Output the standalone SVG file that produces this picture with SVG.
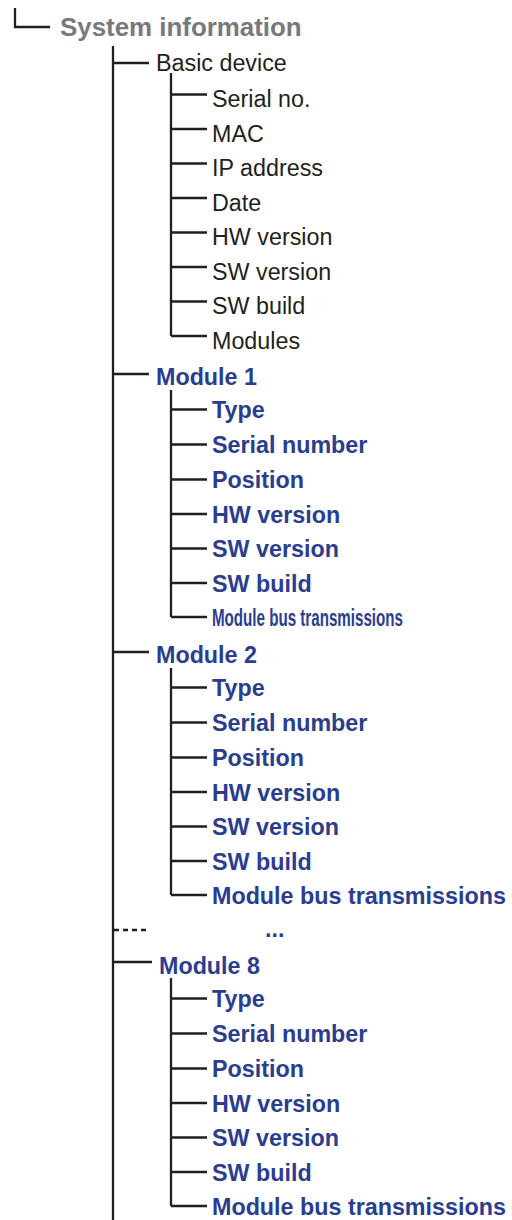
<svg xmlns="http://www.w3.org/2000/svg" width="512" height="1220" viewBox="0 0 512 1220">
  <style>
    .ln { stroke: #231f20; stroke-width: 2.3; fill: none; }
    .dash { stroke-dasharray: 5 4; }
    text { font-family: "Liberation Sans", Arial, Helvetica, sans-serif; font-size: 23.3px; }
    .root { font-size: 25.9px; font-weight: bold; fill: #78797c; }
    .plain { fill: #231f20; }
    .mod { font-weight: bold; fill: #2a3d8f; }
  </style>
  <rect width="512" height="1220" fill="#ffffff"/>

  <!-- connectors -->
  <g id="connectors" class="ln">
    <path d="M15 8 V27 H50"/>
    <path d="M113 46 V1220"/>
    <!-- basic device -->
    <path d="M113 63 H149"/>
    <path d="M171 73 V336"/>
    <path d="M171 94.5 H207 M171 129 H207 M171 163.5 H207 M171 198 H207 M171 232.5 H207 M171 267 H207 M171 301.5 H207 M171 336 H207"/>
    <!-- module 1 -->
    <path d="M113 374 H149"/>
    <path d="M171 390 V617"/>
    <path d="M171 409.5 H207 M171 444.5 H207 M171 479.5 H207 M171 514 H207 M171 548.5 H207 M171 583 H207 M171 617 H207"/>
    <!-- module 2 -->
    <path d="M113 652 H149"/>
    <path d="M171 668 V895"/>
    <path d="M171 687.5 H207 M171 722.5 H207 M171 757.5 H207 M171 792 H207 M171 826.5 H207 M171 861 H207 M171 895 H207"/>
    <!-- elided modules -->
    <path class="dash" d="M114 930 H150"/>
    <!-- module 8 -->
    <path d="M113 962 H152"/>
    <path d="M171 978 V1206"/>
    <path d="M171 998.5 H207 M171 1033.5 H207 M171 1068.5 H207 M171 1103 H207 M171 1137.5 H207 M171 1172 H207 M171 1206 H207"/>
  </g>

  <g id="system-information"><text class="root" x="60" y="36">System information</text></g>

  <g id="basic-device">
    <text class="plain" x="156" y="70.5">Basic device</text>
    <text class="plain" x="212" y="107">Serial no.</text>
    <text class="plain" x="212" y="141.5">MAC</text>
    <text class="plain" x="212" y="176">IP address</text>
    <text class="plain" x="212" y="210.5">Date</text>
    <text class="plain" x="212" y="245">HW version</text>
    <text class="plain" x="212" y="279.5">SW version</text>
    <text class="plain" x="212" y="314">SW build</text>
    <text class="plain" x="212" y="348.5">Modules</text>
  </g>

  <g id="module-1">
    <text class="mod" x="156" y="385">Module 1</text>
    <text class="mod" x="212" y="418">Type</text>
    <text class="mod" x="212" y="453">Serial number</text>
    <text class="mod" x="212" y="488">Position</text>
    <text class="mod" x="212" y="522.5">HW version</text>
    <text class="mod" x="212" y="557">SW version</text>
    <text class="mod" x="212" y="591.5">SW build</text>
    <text class="mod" x="212" y="625.5" textLength="191" lengthAdjust="spacingAndGlyphs">Module bus transmissions</text>
  </g>

  <g id="module-2">
    <text class="mod" x="156" y="663">Module 2</text>
    <text class="mod" x="212" y="696">Type</text>
    <text class="mod" x="212" y="731">Serial number</text>
    <text class="mod" x="212" y="766">Position</text>
    <text class="mod" x="212" y="800.5">HW version</text>
    <text class="mod" x="212" y="835">SW version</text>
    <text class="mod" x="212" y="869.5">SW build</text>
    <text class="mod" x="212" y="903.5">Module bus transmissions</text>
  </g>

  <g id="ellipsis"><text class="mod" x="265" y="937">...</text></g>

  <g id="module-8">
    <text class="mod" x="159" y="974">Module 8</text>
    <text class="mod" x="212" y="1007">Type</text>
    <text class="mod" x="212" y="1042">Serial number</text>
    <text class="mod" x="212" y="1077">Position</text>
    <text class="mod" x="212" y="1111.5">HW version</text>
    <text class="mod" x="212" y="1146">SW version</text>
    <text class="mod" x="212" y="1180.5">SW build</text>
    <text class="mod" x="212" y="1214.5">Module bus transmissions</text>
  </g>
</svg>
